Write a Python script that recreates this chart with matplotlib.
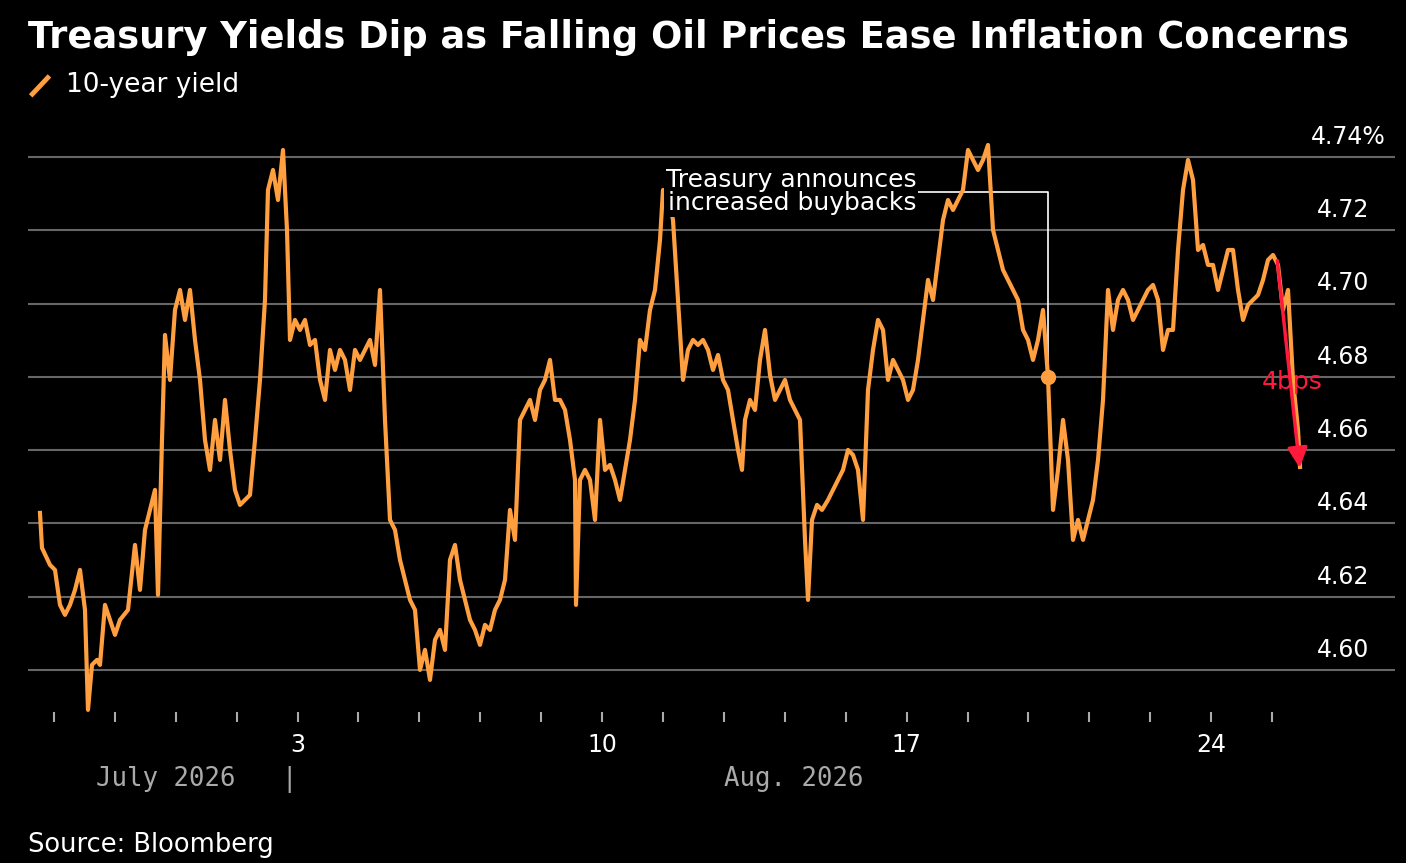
import numpy as np
import matplotlib.pyplot as plt

# 10-year yield: horizontal position (chart px) and yield (px from top)
px_x = [40, 42, 50, 55, 60, 65, 70, 75, 80, 85, 88, 92, 97, 100, 105, 110, 115, 120, 128, 135,
        140, 145, 150, 155, 158, 162, 165, 170, 175, 180, 185, 190, 195, 200, 205, 210, 215, 220, 225, 230,
        235, 240, 245, 250, 255, 260, 265, 268, 273, 278, 283, 287, 290, 295, 300, 305, 310, 315, 320, 325,
        330, 335, 340, 345, 350, 355, 360, 365, 370, 375, 380, 385, 390, 395, 400, 405, 410, 415, 420, 425,
        430, 435, 440, 445, 450, 455, 460, 465, 470, 475, 480, 485, 490, 495, 500, 505, 510, 515, 520, 525,
        530, 535, 540, 545, 550, 555, 560, 565, 570, 575, 576, 580, 585, 590, 595, 600, 605, 610, 615, 620,
        625, 630, 635, 640, 645, 650, 655, 660, 663, 668, 673, 678, 683, 688, 693, 698, 703, 708, 713, 718,
        723, 728, 733, 738, 742, 745, 750, 755, 760, 765, 770, 775, 780, 785, 790, 795, 800, 805, 808, 812,
        817, 822, 828, 833, 838, 843, 848, 853, 858, 863, 868, 873, 878, 883, 888, 893, 898, 903, 908, 913,
        918, 923, 928, 933, 938, 943, 948, 953, 958, 963, 968, 973, 978, 983, 988, 993, 998, 1003, 1008, 1013,
        1018, 1023, 1028, 1033, 1038, 1043, 1048, 1053, 1058, 1063, 1068, 1073, 1078, 1083, 1088, 1093, 1098, 1103, 1108, 1113,
        1118, 1123, 1128, 1133, 1138, 1143, 1148, 1153, 1158, 1163, 1168, 1173, 1178, 1183, 1188, 1193, 1198, 1203, 1208, 1213,
        1218, 1223, 1228, 1233, 1238, 1243, 1248, 1253, 1258, 1263, 1268, 1273, 1278, 1283, 1288, 1293, 1298, 1300]
px_y = [513, 548, 565, 570, 605, 615, 605, 590, 570, 610, 710, 665, 660, 665, 605, 620, 635, 620, 610, 545,
        590, 530, 510, 490, 595, 440, 335, 380, 310, 290, 320, 290, 340, 380, 440, 470, 420, 460, 400, 450,
        490, 505, 500, 495, 440, 380, 300, 190, 170, 200, 150, 230, 340, 320, 330, 320, 345, 340, 380, 400,
        350, 370, 350, 360, 390, 350, 360, 350, 340, 365, 290, 420, 520, 530, 560, 580, 600, 610, 670, 650,
        680, 640, 630, 650, 560, 545, 580, 600, 620, 630, 645, 625, 630, 610, 600, 580, 510, 540, 420, 410,
        400, 420, 390, 380, 360, 400, 400, 410, 440, 480, 605, 480, 470, 480, 520, 420, 470, 465, 480, 500,
        470, 440, 400, 340, 350, 310, 290, 240, 190, 195, 220, 300, 380, 350, 340, 345, 340, 350, 370, 355,
        380, 390, 420, 450, 470, 420, 400, 410, 360, 330, 375, 400, 390, 380, 400, 410, 420, 540, 600, 520,
        505, 510, 500, 490, 480, 470, 450, 455, 470, 520, 390, 350, 320, 330, 380, 360, 370, 380, 400, 390,
        360, 320, 280, 300, 260, 220, 200, 210, 200, 190, 150, 160, 170, 160, 145, 230, 250, 270, 280, 290,
        300, 330, 340, 360, 340, 310, 377, 510, 470, 420, 460, 540, 520, 540, 520, 500, 460, 400, 290, 330,
        300, 290, 300, 320, 310, 300, 290, 285, 300, 350, 330, 330, 250, 190, 160, 180, 250, 245, 265, 265,
        290, 270, 250, 250, 290, 320, 305, 300, 295, 280, 260, 255, 265, 310, 290, 380, 430, 467]

# convert chart pixels to trading-day index and yield (%)
days = 1 + (np.array(px_x) - 54) / 60.9
yields = 4.74 - (np.array(px_y) - 157) * 0.02 / 73.3

yticks = [4.60, 4.62, 4.64, 4.66, 4.68, 4.70, 4.72, 4.74]
date_ticks = [5, 10, 15, 20]
date_labels = ['3', '10', '17', '24']

orange = '#ff9f40'
fig = plt.figure(figsize=(14.06, 8.63), dpi=100, facecolor='black')
ax = fig.add_axes([0.0199, 0.175, 0.9723, 0.6628], facecolor='black')
for s in ax.spines.values():
    s.set_visible(False)

y0 = 4.60 - 42 * 0.02 / 73.3
y1 = 4.74 + 17 * 0.02 / 73.3
ax.set_ylim(y0, y1)
ax.set_xlim(0.573, 23.02)
for yv in yticks:
    ax.axhline(yv, color='#666666', lw=1.5, zorder=1)
    lab = f'{yv:.2f}' + ('%' if yv == 4.74 else '')
    xx = 0.9934 if yv == 4.74 else 0.981
    ax.text(xx, yv + 0.0022, lab, transform=ax.get_yaxis_transform(), ha='right', va='bottom',
            color='white', fontsize=17)
ax.set_yticks([])

ax.plot(days, yields, color=orange, lw=3, zorder=3)

ax.set_xticks(np.arange(1, 22), minor=True)
ax.set_xticks(date_ticks)
ax.set_xticklabels(date_labels, color='white', fontsize=17)
ax.tick_params(axis='x', which='both', colors='#aaaaaa', length=7, width=1.5, labelcolor='white', pad=8)

# annotation
ax_day = 1 + (1048 - 54) / 60.9
ax_y = 4.74 - (377 - 157) * 0.02 / 73.3
top_y = 4.74 - (192 - 157) * 0.02 / 73.3
left_day = 1 + (918 - 54) / 60.9
ax.plot([ax_day, ax_day, left_day], [ax_y, top_y, top_y], color='white', lw=1.2, zorder=2)
ax.plot(ax_day, ax_y, 'o', color=orange, ms=10, zorder=4)
ax.text(left_day - 0.03, top_y, 'Treasury announces\nincreased buybacks', color='white', fontsize=18,
        ha='right', va='center', linespacing=0.95,
        bbox=dict(facecolor='black', edgecolor='none', pad=1))

# 4bps arrow
s_day = 1 + (1277 - 54) / 60.9
e_day = 1 + (1300 - 54) / 60.9
ax.annotate('', xy=(e_day, yields[-1] - 0.001), xytext=(s_day, 4.74 - (258 - 157) * 0.02 / 73.3),
            arrowprops=dict(arrowstyle='-|>', color='#ff1a3c', lw=2.5, mutation_scale=30), zorder=5)
ax.text(1 + (1292 - 54) / 60.9, 4.74 - (382 - 157) * 0.02 / 73.3, '4bps', color='#ff1a3c',
        fontsize=18, ha='center', va='center', zorder=6)

fig.text(0.0199, 0.978, 'Treasury Yields Dip as Falling Oil Prices Ease Inflation Concerns',
         color='white', fontsize=26.5, fontweight='bold', va='top')
fig.lines.append(plt.Line2D([0.023, 0.034], [0.891, 0.910], transform=fig.transFigure, color=orange, lw=3.5))
fig.text(0.047, 0.901, '10-year yield', color='white', fontsize=19, va='center')
fig.text(0.068, 0.097, 'July 2026   |', color='#aaaaaa', fontsize=18.5, family='DejaVu Sans Mono', va='center')
fig.text(0.515, 0.097, 'Aug. 2026', color='#aaaaaa', fontsize=18.5, family='DejaVu Sans Mono', va='center')
fig.text(0.0199, 0.021, 'Source: Bloomberg', color='white', fontsize=18.5, va='center')

fig.savefig('out.png', dpi=100, facecolor='black')
